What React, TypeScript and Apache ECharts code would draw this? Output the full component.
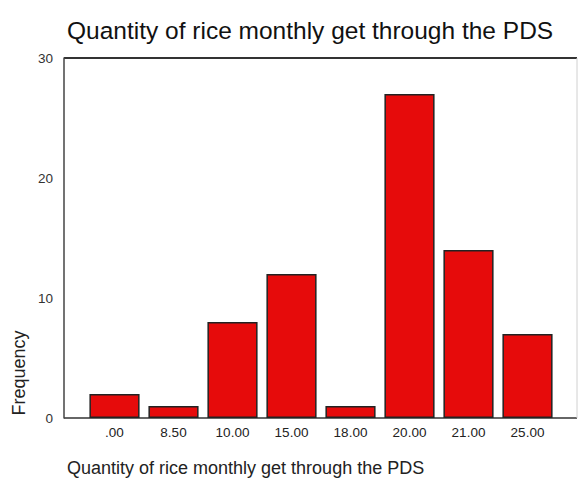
import React, { useEffect, useRef } from "react";
import * as echarts from "echarts";

const categories = [".00", "8.50", "10.00", "15.00", "18.00", "20.00", "21.00", "25.00"];
const frequencies = [2, 1, 8, 12, 1, 27, 14, 7];
const yTicks = [0, 10, 20, 30];
const titleText = "Quantity of rice monthly get through the PDS";
const xAxisTitle = "Quantity of rice monthly get through the PDS";
const yAxisTitle = "Frequency";

export default function App() {
  const ref = useRef<HTMLDivElement>(null);
  useEffect(() => {
    document.body.style.margin = "0";
    const chart = echarts.init(ref.current!, null, { renderer: "svg" });
    const font = "Liberation Sans, Arial, sans-serif";
    chart.setOption({
      animation: false,
      backgroundColor: "#ffffff",
      textStyle: { fontFamily: font },
      title: [
        {
          text: titleText,
          left: 62,
          top: 13,
          textStyle: { fontSize: 24.5, fontWeight: "normal", color: "#111", fontFamily: font },
        },
        {
          text: xAxisTitle,
          left: 62,
          top: 458,
          padding: [0, 5, 0, 5],
          textStyle: { fontSize: 18, lineHeight: 20, fontWeight: "normal", color: "#222", fontFamily: font },
        },
      ],
      grid: { left: 85, right: 21, top: 58, bottom: 65, containLabel: false },
      xAxis: {
        type: "category",
        data: categories,
        axisLine: { show: false },
        axisTick: { show: false },
        axisLabel: { color: "#222", fontSize: 13.5, margin: 7, fontFamily: font },
      },
      yAxis: {
        type: "value",
        min: yTicks[0],
        max: yTicks[yTicks.length - 1],
        interval: 10,
        offset: 21,
        axisLine: { show: true, lineStyle: { color: "#444", width: 1.5 } },
        axisTick: { show: false },
        splitLine: { show: false },
        axisLabel: { color: "#333", fontSize: 13.5, margin: 11, fontFamily: font },
      },
      graphic: [
        { type: "line", shape: { x1: 64, y1: 58, x2: 577, y2: 58 }, style: { stroke: "#333", lineWidth: 2 } },
        { type: "line", shape: { x1: 64, y1: 418, x2: 577, y2: 418 }, style: { stroke: "#333", lineWidth: 1.5 } },
        { type: "line", shape: { x1: 577, y1: 58, x2: 577, y2: 418 }, style: { stroke: "#d0d0d0", lineWidth: 1 } },
        {
          type: "text",
          x: 19,
          y: 373,
          rotation: Math.PI / 2,
          style: {
            text: yAxisTitle,
            fontSize: 18,
            fill: "#222",
            fontFamily: font,
            align: "center",
            verticalAlign: "middle",
          },
        },
      ],
      series: [
        {
          type: "bar",
          data: frequencies,
          barCategoryGap: "15%",
          itemStyle: { color: "#e60b0b", borderColor: "#222", borderWidth: 1.5 },
        },
      ],
    });
    return () => chart.dispose();
  }, []);
  return <div ref={ref} style={{ width: 578, height: 483 }} />;
}
